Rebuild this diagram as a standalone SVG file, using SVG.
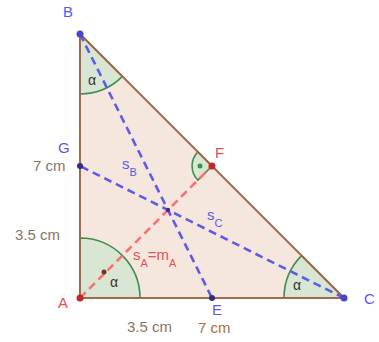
<svg xmlns="http://www.w3.org/2000/svg" width="379" height="342" viewBox="0 0 379 342">
<style>
text{font-family:"Liberation Sans",Arial,sans-serif;font-size:15px}
.lb{fill:#5a5ae6}
.lr{fill:#e65050}
.dim{fill:#8a7464}
.dimo{fill:#b86a3a}
.ang{fill:#cfe6cf;fill-opacity:0.75;stroke:#3f8f52;stroke-width:1.6}
.edge{stroke:#a4694c;stroke-width:2;fill:none}
.med{stroke:#5c5ce6;stroke-width:2.6;stroke-dasharray:8 5;fill:none;stroke-linecap:butt}
.medr{stroke:#ff7070;stroke-width:2.6;stroke-dasharray:8 5;fill:none}
.ptb{fill:#4646c8}
.ptd{fill:#2e2e80}
.ptr{fill:#c02a2a}
.al{fill:#333;font-size:14px}
</style>
<rect width="379" height="342" fill="#fff"/>
<g id="triangle">
<polygon points="80,298 80,34 344,298" fill="#f5e7dd"/>
</g>
<g id="angles">
<path id="angleA" class="ang" d="M80,298 L140,298 A60,60 0 0 0 80,238 Z"/>
<path id="angleB" class="ang" d="M80,34 L80,94 A60,60 0 0 0 122.4,76.4 Z"/>
<path id="angleC" class="ang" d="M344,298 L284,298 A60,60 0 0 1 301.6,255.6 Z"/>
<path id="angleF" class="ang" d="M212,166 L197.9,151.9 A20,20 0 0 0 197.9,180.1 Z"/>
<circle cx="200" cy="166" r="2.5" fill="#2f9a3f"/>
</g>
<g id="edges">
<line class="edge" x1="80" y1="298" x2="80" y2="34"/>
<line class="edge" x1="80" y1="34" x2="344" y2="298"/>
<line class="edge" x1="80" y1="298" x2="344" y2="298"/>
</g>
<g id="connectors">
<line class="medr" x1="80" y1="298" x2="212" y2="166"/>
<line class="med" x1="80" y1="34" x2="212" y2="298"/>
<line class="med" x1="344" y1="298" x2="80" y2="166"/>
</g>
<g id="A"><circle class="ptr" cx="80" cy="298" r="3.5"/><text class="lr" x="58" y="308">A</text></g>
<g id="B"><circle class="ptb" cx="80" cy="34" r="3.5"/><text class="lb" x="63" y="17">B</text></g>
<g id="C"><circle class="ptb" cx="344" cy="298" r="3.5"/><text class="lb" x="364" y="304">C</text></g>
<g id="E"><circle class="ptd" cx="212" cy="298" r="3"/><text class="lb" x="212" y="315">E</text></g>
<g id="F"><circle class="ptr" cx="212" cy="166" r="3.5"/><text class="lr" x="215" y="158">F</text></g>
<g id="G"><circle class="ptd" cx="80" cy="166" r="3"/><text class="lb" x="58" y="153">G</text></g>
<g id="S"><circle fill="#4a2a80" cx="168" cy="210" r="2.2"/></g>
<g id="P"><circle fill="#6a3a2a" cx="104" cy="272" r="2.5"/></g>
<g id="labels">
<text class="dim" x="33" y="171">7 cm</text>
<text class="dim" x="15" y="240">3.5 cm</text>
<text class="dim" x="127" y="332">3.5 cm</text>
<text class="dimo" x="198" y="333">7 cm</text>
<text class="lb" x="122" y="169">s<tspan font-size="11" dy="7">B</tspan></text>
<text class="lb" x="207" y="220">s<tspan font-size="11" dy="7">C</tspan></text>
<text class="lr" x="133" y="260">s<tspan font-size="11" dy="7">A</tspan><tspan dy="-7">=m</tspan><tspan font-size="11" dy="7">A</tspan></text>
<text class="al" x="88" y="85">α</text>
<text class="al" x="293" y="290">α</text>
<text class="al" x="110" y="287" fill="#3a6a3a">α</text>
</g>
</svg>
